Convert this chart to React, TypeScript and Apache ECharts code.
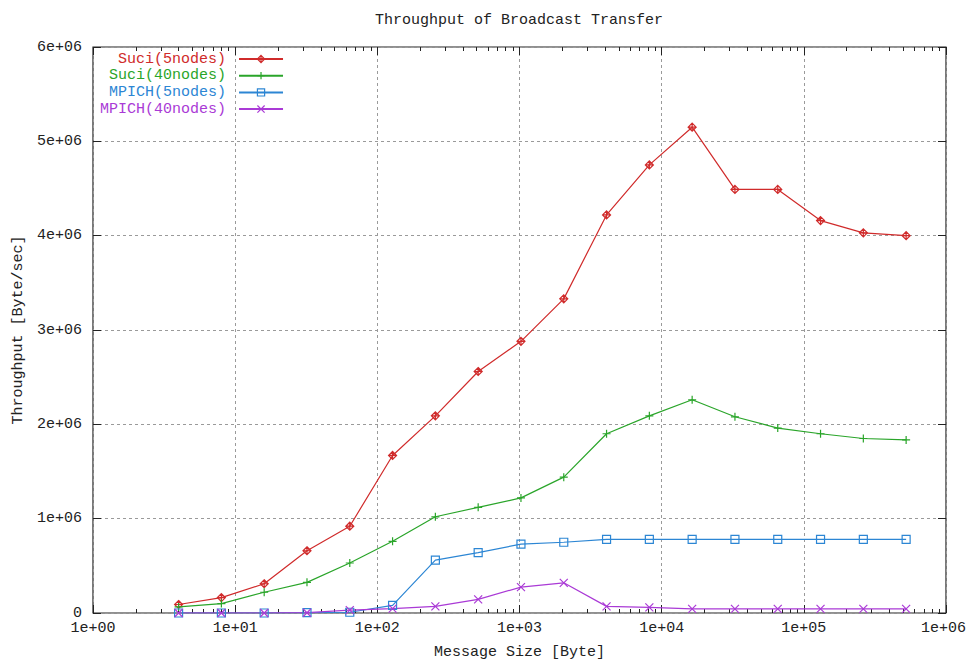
import React, { useEffect, useRef } from "react";
import * as echarts from "echarts";

const messageSizes = [4, 8, 16, 32, 64, 128, 256, 512, 1024, 2048, 4096, 8192, 16384, 32768, 65536, 131072, 262144, 524288];

const suci5 = [90000, 163000, 310000, 660000, 920000, 1670000, 2090000, 2560000, 2880000, 3330000, 4220000, 4750000, 5150000, 4490000, 4490000, 4160000, 4030000, 4000000];
const suci40 = [64000, 100000, 220000, 325000, 530000, 760000, 1020000, 1120000, 1220000, 1440000, 1900000, 2090000, 2260000, 2080000, 1960000, 1900000, 1850000, 1835000];
const mpich5 = [0, 0, 0, 3000, 8000, 80000, 560000, 640000, 730000, 750000, 780000, 780000, 780000, 780000, 780000, 780000, 780000, 780000];
const mpich40 = [0, 0, 0, 3000, 30000, 47000, 70000, 145000, 275000, 320000, 70000, 60000, 43000, 43000, 43000, 43000, 43000, 43000];

const seriesNames = ["Suci(5nodes)", "Suci(40nodes)", "MPICH(5nodes)", "MPICH(40nodes)"];
const seriesValues = [suci5, suci40, mpich5, mpich40];
const seriesColors = ["#d02b2b", "#2aa52a", "#2c86d4", "#aa3ad6"];
const seriesSymbols = [
  "path://M5,0L10,5L5,10L0,5ZM5,0L5,10M0,5L10,5",
  "path://M5,0L5,10M0,5L10,5",
  "path://M0,0L10,0L10,10L0,10Z",
  "path://M0,0L10,10M10,0L0,10",
];

const xTickLabels = ["1e+00", "1e+01", "1e+02", "1e+03", "1e+04", "1e+05", "1e+06"];
const yTickLabels = ["0", "1e+06", "2e+06", "3e+06", "4e+06", "5e+06", "6e+06"];
const minorMultipliers = [2, 3, 4, 5, 6, 7, 8, 9];

const titleText = "Throughput of Broadcast Transfer";
const xName = "Message Size [Byte]";
const yName = "Throughput [Byte/sec]";

const FONT = "'Liberation Mono', 'DejaVu Sans Mono', monospace";

export default function App() {
  const ref = useRef<HTMLDivElement>(null);

  useEffect(() => {
    if (!ref.current) return;
    const chart = echarts.init(ref.current, undefined, { renderer: "svg" });

    const minorValues: number[] = [];
    for (let d = 0; d < 6; d++) {
      for (const m of minorMultipliers) minorValues.push(m * Math.pow(10, d));
    }

    const xFmt = (v: number) => {
      const i = Math.round(Math.log10(v));
      const t = xTickLabels[i] ?? "";
      return i === xTickLabels.length - 1 ? `{last|${t}}` : t;
    };
    const yFmt = (v: number) => {
      const i = Math.round(v / 1e6);
      return yTickLabels[i] ?? "";
    };

    const baseX = {
      type: "log" as const,
      logBase: 10,
      min: 1,
      max: 1e6,
      gridIndex: 0,
    };

    const option: any = {
      animation: false,
      backgroundColor: "#ffffff",
      graphic: [
        {
          type: "text",
          x: 519,
          y: 20,
          style: {
            text: titleText,
            font: `15px ${FONT}`,
            fill: "#222",
            textAlign: "center",
            textVerticalAlign: "middle",
          },
        },
      ],
      grid: {
        left: 93,
        right: 21,
        top: 47,
        bottom: 47,
        outerBoundsMode: "none",
        containLabel: false,
        show: true,
        borderColor: "#222",
        borderWidth: 1.2,
        backgroundColor: "transparent",
      },
      legend: {
        orient: "vertical",
        left: 100,
        top: 51,
        padding: 0,
        itemGap: 0.7,
        align: "right",
        itemWidth: 44,
        itemHeight: 9,
        selectedMode: false,
        data: seriesNames.map((n, i) => ({
          name: n,
          textStyle: { color: seriesColors[i] },
          itemStyle: { color: "transparent", borderColor: seriesColors[i], borderWidth: 1.2 },
        })),
        textStyle: { fontFamily: FONT, fontSize: 15, lineHeight: 16, padding: [0, 8, 0, 0] },
      },
      xAxis: [
        {
          ...baseX,
          position: "bottom",
          name: xName,
          nameLocation: "middle",
          nameGap: 32,
          nameTextStyle: { fontFamily: FONT, fontSize: 15, color: "#222" },
          axisLine: { show: false },
          axisTick: { show: true, inside: true, length: 8, lineStyle: { color: "#222", width: 1 } },
          axisLabel: {
            show: true,
            formatter: xFmt,
            margin: 8,
            fontFamily: FONT,
            fontSize: 15,
            color: "#222",
            rich: { last: { fontFamily: FONT, fontSize: 15, color: "#222", padding: [0, 5, 0, 0] } },
          },
          splitLine: { show: true, lineStyle: { color: "#9a9a9a", type: [3, 3], width: 1 } },
        },
        {
          ...baseX,
          position: "bottom",
          axisLine: { show: false },
          axisTick: { show: true, inside: true, length: 4, customValues: minorValues, lineStyle: { color: "#222", width: 1 } },
          axisLabel: { show: false },
          splitLine: { show: false },
        },
        {
          ...baseX,
          position: "top",
          axisLine: { show: false },
          axisTick: { show: true, inside: true, length: 8, lineStyle: { color: "#222", width: 1 } },
          axisLabel: { show: false },
          splitLine: { show: false },
        },
        {
          ...baseX,
          position: "top",
          axisLine: { show: false },
          axisTick: { show: true, inside: true, length: 4, customValues: minorValues, lineStyle: { color: "#222", width: 1 } },
          axisLabel: { show: false },
          splitLine: { show: false },
        },
      ],
      yAxis: [
        {
          type: "value",
          min: 0,
          max: 6e6,
          interval: 1e6,
          position: "left",
          name: yName,
          nameLocation: "middle",
          nameRotate: 90,
          nameGap: 66,
          nameTextStyle: { fontFamily: FONT, fontSize: 15, color: "#222" },
          axisLine: { show: false },
          axisTick: { show: true, inside: true, length: 8, lineStyle: { color: "#222", width: 1 } },
          axisLabel: { formatter: yFmt, margin: 11, fontFamily: FONT, fontSize: 15, color: "#222" },
          splitLine: { show: true, lineStyle: { color: "#9a9a9a", type: [3, 3], width: 1 } },
        },
        {
          type: "value",
          min: 0,
          max: 6e6,
          interval: 1e6,
          position: "right",
          axisLine: { show: false },
          axisTick: { show: true, inside: true, length: 8, lineStyle: { color: "#222", width: 1 } },
          axisLabel: { show: false },
          splitLine: { show: false },
        },
      ],
      series: seriesNames.map((name, i) => ({
        type: "line",
        name,
        xAxisIndex: 0,
        yAxisIndex: 0,
        data: messageSizes.map((x, j) => [x, seriesValues[i][j]]),
        symbol: seriesSymbols[i],
        symbolSize: 8,
        showAllSymbol: true,
        lineStyle: { color: seriesColors[i], width: 1.2 },
        itemStyle: { color: "transparent", borderColor: seriesColors[i], borderWidth: 1.2 },
        emphasis: { disabled: true },
      })),
    };

    chart.setOption(option);
    return () => chart.dispose();
  }, []);

  return (
    <div
      ref={ref}
      style={{ position: "fixed", left: 0, top: 0, width: 967, height: 660, background: "#fff" }}
    />
  );
}
